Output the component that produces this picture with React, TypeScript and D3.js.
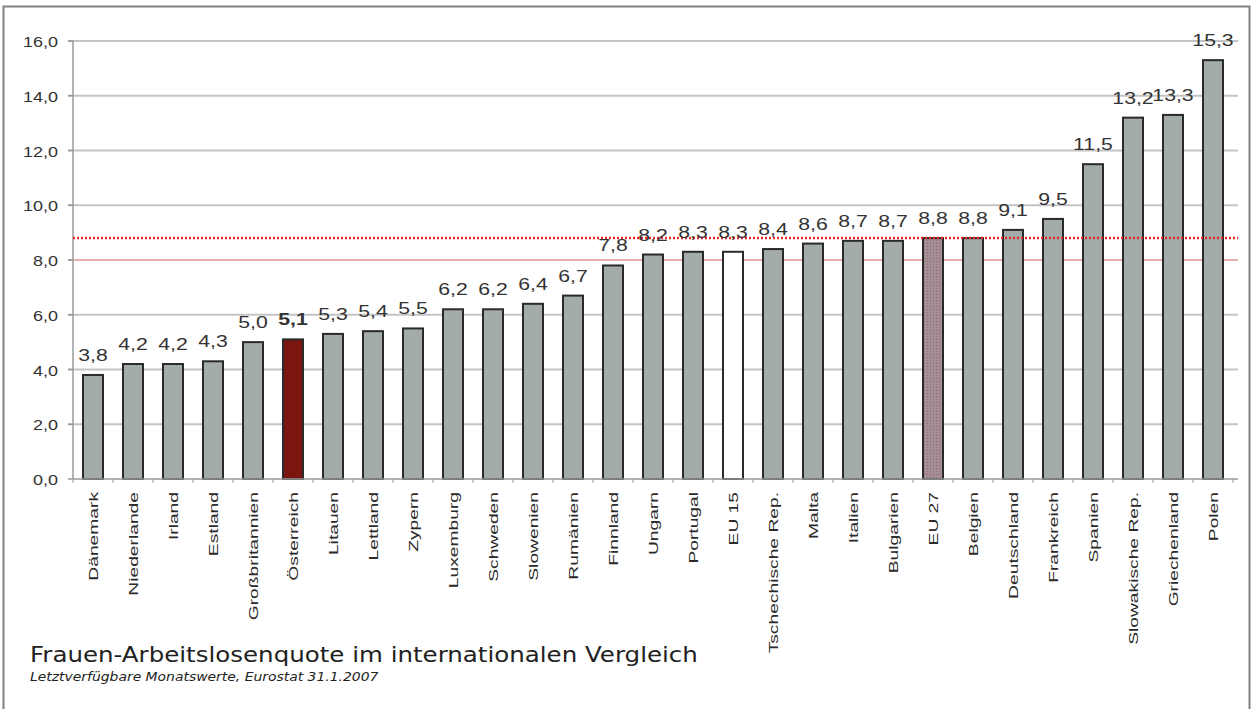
import React from 'react';
import * as d3 from 'd3';

const countries = [
  'Dänemark', 'Niederlande', 'Irland', 'Estland', 'Großbritannien', 'Österreich',
  'Litauen', 'Lettland', 'Zypern', 'Luxemburg', 'Schweden', 'Slowenien', 'Rumänien',
  'Finnland', 'Ungarn', 'Portugal', 'EU 15', 'Tschechische Rep.', 'Malta', 'Italien',
  'Bulgarien', 'EU 27', 'Belgien', 'Deutschland', 'Frankreich', 'Spanien',
  'Slowakische Rep.', 'Griechenland', 'Polen'
];
const rates = [
  3.8, 4.2, 4.2, 4.3, 5.0, 5.1, 5.3, 5.4, 5.5, 6.2, 6.2, 6.4, 6.7, 7.8, 8.2, 8.3,
  8.3, 8.4, 8.6, 8.7, 8.7, 8.8, 8.8, 9.1, 9.5, 11.5, 13.2, 13.3, 15.3
];
const yTicks = [0, 2, 4, 6, 8, 10, 12, 14, 16];
const referenceLine = 8.8; // EU 27
const title = 'Frauen-Arbeitslosenquote im internationalen Vergleich';
const subtitle = 'Letztverfügbare Monatswerte, Eurostat 31.1.2007';

const W = 1254;
const H = 709;
const plot = { left: 73, right: 1233, top: 41, bottom: 479 };

const fmt = (v: number) => v.toFixed(1).replace('.', ',');

const fillFor = (name: string) => {
  if (name === 'Österreich') return '#7a160f';
  if (name === 'EU 15') return '#ffffff';
  if (name === 'EU 27') return 'url(#eu27)';
  return '#a3abab';
};

export default function App() {
  const x = d3.scaleBand<string>()
    .domain(countries)
    .range([plot.left, plot.right])
    .paddingInner(0.5)
    .paddingOuter(0.25);
  const y = d3.scaleLinear().domain([0, 16]).range([plot.bottom, plot.top]);
  const gridRight = plot.right + 5;
  const step = x.step();
  const boundaries = d3.range(countries.length + 1).map(i => plot.left + i * step);

  return (
    <div style={{ position: 'fixed', left: 0, top: 0 }}>
      <svg width={W} height={H} style={{ display: 'block', background: '#fff' }}>
        <defs>
          <pattern id="eu27" width="3" height="3" patternUnits="userSpaceOnUse">
            <rect width="3" height="3" fill="#a68d94" />
            <rect width="1" height="1" fill="#8a7078" />
          </pattern>
        </defs>

        <rect x={3.5} y={6.5} width={1246} height={712} fill="none" stroke="#808080" strokeWidth={2} />

        {/* grid */}
        {yTicks.filter(t => t > 0).map(t => (
          <line key={t} x1={plot.left - 5} x2={gridRight} y1={y(t)} y2={y(t)}
            stroke={t === 8 ? '#e9b0ac' : '#c4c4c4'} strokeWidth={2} />
        ))}

        {/* y axis */}
        <line x1={plot.left} x2={plot.left} y1={plot.top} y2={plot.bottom} stroke="#9a9a9a" strokeWidth={1.5} />
        {yTicks.map(t => (
          <g key={t}>
            <line x1={plot.left - 5} x2={plot.left} y1={y(t)} y2={y(t)} stroke="#9a9a9a" strokeWidth={1.5} />
            <text transform={`translate(58,${y(t) + 6}) scale(1.2,1)`} textAnchor="end"
              fontFamily="Liberation Sans, Arial, sans-serif" fontSize={15} fill="#333">{fmt(t)}</text>
          </g>
        ))}

        {/* bars */}
        {countries.map((c, i) => (
          <rect key={c} x={x(c)!} y={y(rates[i])} width={x.bandwidth()} height={plot.bottom - y(rates[i])}
            fill={fillFor(c)} stroke="#2a2a2a" strokeWidth={2} />
        ))}

        {/* x axis */}
        <line x1={plot.left} x2={gridRight} y1={plot.bottom} y2={plot.bottom} stroke="#9a9a9a" strokeWidth={1.5} />
        {boundaries.map((b, i) => (
          <line key={i} x1={b} x2={b} y1={plot.bottom} y2={plot.bottom + 4} stroke="#9a9a9a" strokeWidth={1} />
        ))}

        {/* reference line */}
        <line x1={plot.left} x2={gridRight} y1={y(referenceLine)} y2={y(referenceLine)}
          stroke="#e42a26" strokeWidth={2.5} strokeDasharray="2 2" />

        {/* value labels */}
        {countries.map((c, i) => (
          <text key={c} transform={`translate(${x(c)! + x.bandwidth() / 2},${y(rates[i]) - 14}) scale(1.25,1)`}
            textAnchor="middle" fontFamily="Liberation Sans, Arial, sans-serif" fontSize={17}
            fontWeight={c === 'Österreich' ? 'bold' : 'normal'} fill="#333">{fmt(rates[i])}</text>
        ))}

        {/* category labels */}
        {countries.map(c => (
          <text key={c}
            transform={`translate(${x(c)! + x.bandwidth() / 2 + 4.5},492) rotate(-90) scale(1.48,1)`}
            textAnchor="end" fontFamily="Liberation Sans, Arial, sans-serif" fontSize={13} fill="#2a2a2a">{c}</text>
        ))}

        <text transform="translate(30,662) scale(1.14,1)" fontFamily="DejaVu Sans, Verdana, sans-serif"
          fontSize={21.5} fill="#222">{title}</text>
        <text transform="translate(30,681) scale(1.16,1)" fontFamily="DejaVu Sans, Verdana, sans-serif"
          fontSize={12} fontStyle="italic" fill="#222">{subtitle}</text>
      </svg>
    </div>
  );
}
